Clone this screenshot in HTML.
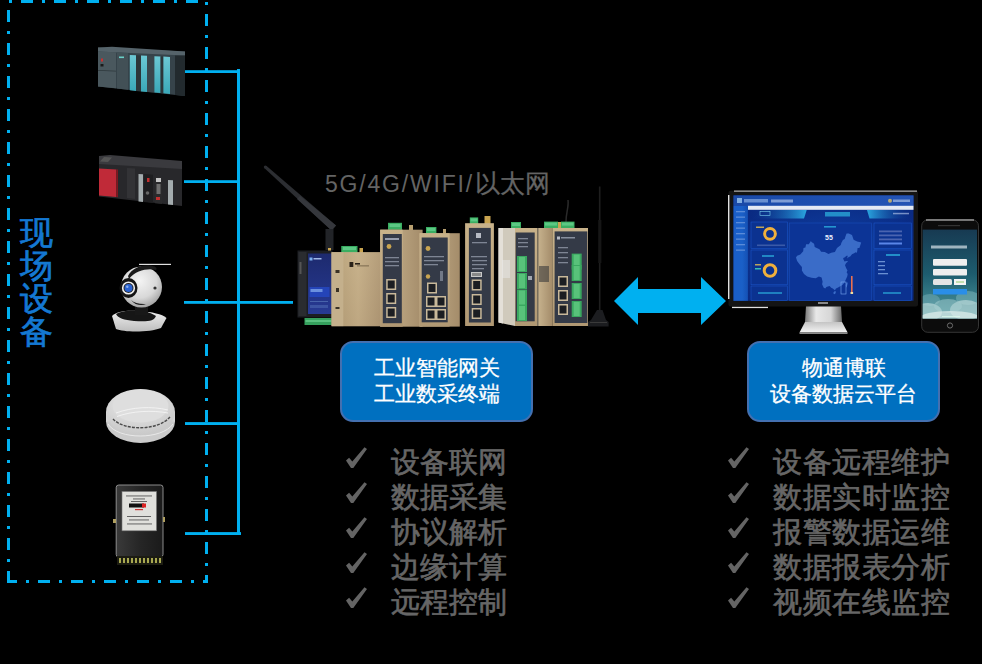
<!DOCTYPE html>
<html><head><meta charset="utf-8">
<style>
html,body{margin:0;padding:0;background:#000;}
body{width:982px;height:664px;position:relative;overflow:hidden;font-family:"Liberation Sans",sans-serif;}
svg{position:absolute;left:0;top:0;}
.t{position:absolute;white-space:nowrap;line-height:1;}
.box{position:absolute;background:#0070C0;border:2.6px solid #4470B0;border-radius:13px;box-sizing:border-box;color:#fff;text-align:center;font-size:21px;line-height:26px;-webkit-text-stroke:0.3px #fff;}
.list{font-size:29px;line-height:35px;color:#666;-webkit-text-stroke:0.65px #666;white-space:nowrap;}
</style></head><body>
<svg width="982" height="664" viewBox="0 0 982 664">

<defs>
<linearGradient id="beige" x1="0" x2="1" y1="0" y2="0"><stop offset="0" stop-color="#b8a482"/><stop offset="0.5" stop-color="#d2c0a0"/><stop offset="1" stop-color="#bca888"/></linearGradient>
<linearGradient id="beigeS" x1="0" x2="1" y1="0" y2="0"><stop offset="0" stop-color="#cdbc9c"/><stop offset="1" stop-color="#a89576"/></linearGradient>
<linearGradient id="scr1" x1="0" x2="0" y1="0" y2="1"><stop offset="0" stop-color="#1d2a6e"/><stop offset="1" stop-color="#273a94"/></linearGradient>
<g id="rj"><rect width="10" height="11" fill="#c8b89a"/><rect x="1.5" y="1.5" width="7" height="8" fill="#1c1e22"/></g>
<g id="gt"><rect width="10" height="16" fill="#3aa860"/><rect x="2" y="1" width="6" height="14" fill="#58c27a"/></g>
</defs>

<!-- PLC1 Siemens -->
<defs>
<linearGradient id="cy" x1="0" x2="0" y1="0" y2="1"><stop offset="0" stop-color="#6cc8d4"/><stop offset="1" stop-color="#3aa8b8"/></linearGradient>
</defs>
<polygon points="98,47.5 185,51.5 185,96 98,86.5" fill="#36434a"/>
<polygon points="98,47.5 112,46.8 185,51.5 185,55.5 98,51.5" fill="#55636a"/>
<polygon points="98,51.5 116,52.3 116,88.3 98,86.5" fill="#4a585e"/>
<polygon points="98,70 116,70.7 116,71.5 98,70.8" fill="#2e383c"/>
<polygon points="117,52.4 128,52.9 128,89.8 117,88.6" fill="#425056"/>
<rect x="119" y="56.5" width="5" height="1.6" fill="#6ad0c8"/>
<polygon points="129.8,55 136,55.3 136,91 129.8,90.3" fill="url(#cy)"/>
<polygon points="136,55.3 141,55.5 141,91.4 136,91" fill="#2c363a"/>
<polygon points="141,55.5 147,55.8 147,92 141,91.4" fill="url(#cy)"/>
<polygon points="147,55.8 154.4,56.2 154.4,92.5 147,92" fill="#3a464c"/>
<polygon points="154.4,56.2 160.6,56.5 160.6,93 154.4,92.5" fill="url(#cy)"/>
<polygon points="160.6,56.5 163.4,56.6 163.4,93.3 160.6,93" fill="#2c363a"/>
<polygon points="163.4,56.6 170,57 170,94 163.4,93.3" fill="url(#cy)"/>
<polygon points="175,55.5 185,55.5 185,96 175,95" fill="#222a2e"/>
<rect x="101" y="58.5" width="2" height="3" fill="#c83030"/>
<rect x="100.5" y="64" width="3" height="2.5" fill="#1a1a1a"/>
<!-- PLC2 Mitsubishi -->
<polygon points="99,156 182,162 182,206 99,196.5" fill="#28282b"/>
<polygon points="99,156 110,155 182,161 182,169 99,164" fill="#3a3a3e"/>
<polygon points="104,157 112,157.5 108,162 100,161.5" fill="#555"/>
<polygon points="99,168.5 116.3,169.5 116.3,197 99,195.5" fill="#c02a38"/>
<polygon points="116.3,169.5 118,169.6 118,197.2 116.3,197" fill="#801820"/>
<polygon points="127,168 135,168.6 135,199 127,198" fill="#333336"/>
<polygon points="138.5,174 143,174.3 143,202 138.5,201.5" fill="#a4acae"/>
<polygon points="144,174 153,174.8 153,203 144,202" fill="#1e1e20"/>
<rect x="147" y="178" width="2.5" height="4" fill="#c03030"/>
<circle cx="147.5" cy="193" r="1.8" fill="#666"/>
<polygon points="155,176 162,176.5 162,204 155,203.3" fill="#2a2a2c"/>
<rect x="156" y="178" width="5" height="4" fill="#c4c4c4"/>
<rect x="156.5" y="184" width="4" height="10" fill="#707070"/>
<rect x="156" y="197" width="4" height="3" fill="#c03030"/>
<polygon points="168,180 173,180.3 173,205 168,204.6" fill="#a4acae"/>
<!-- camera -->
<defs>
<radialGradient id="sph" cx="0.45" cy="0.35" r="0.7"><stop offset="0" stop-color="#f4f4f4"/><stop offset="0.6" stop-color="#d8d8d8"/><stop offset="1" stop-color="#9a9a9a"/></radialGradient>
<linearGradient id="basecam" x1="0" x2="0" y1="0" y2="1"><stop offset="0" stop-color="#f0f0f0"/><stop offset="1" stop-color="#bdbdbd"/></linearGradient>
<radialGradient id="smk" cx="0.45" cy="0.3" r="0.8"><stop offset="0" stop-color="#ececec"/><stop offset="1" stop-color="#c4c4c4"/></radialGradient>
<linearGradient id="mtr" x1="0" x2="1" y1="0" y2="0"><stop offset="0" stop-color="#3a3a3a"/><stop offset="0.5" stop-color="#262626"/><stop offset="1" stop-color="#1a1a1a"/></linearGradient>
</defs>
<rect x="139" y="263.8" width="32" height="1.2" fill="#e0e0e0"/>
<path d="M112,316 C116,311 128,310 140,311 C152,312 162,314 166.5,318 L161,328 C150,332.5 124,332.5 116,329 Z" fill="url(#basecam)"/>
<path d="M116,314 C124,309 146,309 156,316 C154,321 148,322 134,321 C124,320 118,318 116,314 Z" fill="#161616"/>
<rect x="135" y="303" width="13" height="12" fill="#181818"/>
<circle cx="141.5" cy="287" r="20.5" fill="url(#sph)"/>
<path d="M128,276 C132,268 142,264.5 150,265.5 C155,266 158,268 156,270 C148,268 136,270 129,279 Z" fill="#1a1a1a"/>
<path d="M131,300 C134,303 140,304.5 146,304 C142,306 135,305.5 131,300 Z" fill="#1a1a1a"/>
<ellipse cx="128.5" cy="288" rx="9" ry="10" fill="#141414"/>
<circle cx="128.5" cy="288" r="6.6" fill="#eeeeee"/>
<circle cx="128.5" cy="288" r="5" fill="#222"/>
<circle cx="128.5" cy="288" r="4" fill="#2a62d0"/>
<circle cx="127.3" cy="286.8" r="1.2" fill="#8ab0f0"/>
<circle cx="155" cy="288" r="1.6" fill="#333"/>
<!-- smoke detector -->
<ellipse cx="140.5" cy="421.5" rx="34.5" ry="21.4" fill="#cbcbcb"/>
<rect x="106" y="412" width="69" height="9.5" fill="#d4d4d4"/>
<ellipse cx="140.5" cy="412" rx="34.5" ry="23" fill="url(#smk)"/>
<ellipse cx="140.5" cy="406" rx="28" ry="16.5" fill="#dedede"/>
<path d="M113,419 C124,431 158,431 170,417" stroke="#4a4a4a" stroke-width="1.4" fill="none" stroke-dasharray="3 1.2"/>
<path d="M116,413 C132,407 152,406 168,410 M117,416.5 C132,411 152,410 168,413" stroke="#f6f6f6" stroke-width="0.8" fill="none"/>
<path d="M108,424 C118,440 162,440 173,424" stroke="#e8e8e8" stroke-width="1" fill="none"/>
<!-- meter -->
<rect x="116.2" y="485" width="46.8" height="72" rx="2.5" fill="url(#mtr)" stroke="#9a9a9a" stroke-width="0.9"/>
<rect x="122" y="491.5" width="34.5" height="39.3" fill="#e0e0dc" stroke="#777" stroke-width="0.6"/>
<g fill="#555"><rect x="126" y="495.5" width="26" height="0.9"/><rect x="133" y="498.5" width="12" height="0.9"/><rect x="131" y="501" width="16" height="0.9"/><rect x="127" y="516" width="24" height="0.9"/><rect x="129" y="519.5" width="20" height="0.9"/><rect x="127" y="523.5" width="25" height="0.9"/></g>
<rect x="129" y="503.5" width="15" height="4" fill="#111"/><rect x="142" y="503.5" width="4" height="4" fill="#d22"/>
<rect x="135" y="509" width="8" height="1.2" fill="#c33"/>
<rect x="113" y="519" width="3" height="4" fill="#b0a060"/><rect x="163" y="517" width="2" height="5" fill="#b0a060"/>
<rect x="117" y="556" width="46" height="9" fill="#1c1c12"/>
<g fill="#a8a850"><rect x="119" y="558" width="2" height="5"/><rect x="123" y="558" width="2" height="5"/><rect x="127" y="558" width="2" height="5"/><rect x="131" y="558" width="2" height="5"/><rect x="135" y="558" width="2" height="5"/><rect x="139" y="558" width="2" height="5"/><rect x="143" y="558" width="2" height="5"/><rect x="147" y="558" width="2" height="5"/><rect x="151" y="558" width="2" height="5"/><rect x="155" y="558" width="2" height="5"/><rect x="159" y="558" width="2" height="5"/></g>
<!-- antenna 1 -->
<defs>
<linearGradient id="bg1" x1="0" x2="0" y1="0" y2="1"><stop offset="0" stop-color="#c8b28a"/><stop offset="1" stop-color="#b09873"/></linearGradient>
<linearGradient id="bg2" x1="0" x2="1" y1="0" y2="0"><stop offset="0" stop-color="#b8a27c"/><stop offset="0.4" stop-color="#c8b28c"/><stop offset="1" stop-color="#a89070"/></linearGradient>
<linearGradient id="bgside" x1="0" x2="1" y1="0" y2="0"><stop offset="0" stop-color="#c9b590"/><stop offset="1" stop-color="#a48c6a"/></linearGradient>
<linearGradient id="scr1" x1="0" x2="0" y1="0" y2="1"><stop offset="0" stop-color="#1c2566"/><stop offset="0.5" stop-color="#232f80"/><stop offset="1" stop-color="#1e2a70"/></linearGradient>
<g id="rj"><rect width="10" height="11" fill="#d2c8b0"/><rect x="1.2" y="1.2" width="7.6" height="8.6" fill="#1a1c20"/><rect x="3" y="8" width="4" height="1.8" fill="#2e3038"/></g>
<g id="gt"><rect width="10" height="16" fill="#2f9c55"/><rect x="1.5" y="1" width="7" height="14" fill="#4dbb72"/><rect x="3" y="2" width="4" height="2" fill="#2a7a48"/><rect x="3" y="6" width="4" height="2" fill="#2a7a48"/><rect x="3" y="10" width="4" height="2" fill="#2a7a48"/></g>
<g id="gtt"><rect width="10" height="7" fill="#3aae62"/><rect x="1" y="1" width="8" height="3" fill="#5cc884"/></g>
</defs>
<polygon points="266.3,165.8 336,225.6 331.6,230.6 264.3,168" fill="#2c2e32"/>
<circle cx="265.3" cy="166.9" r="1.5" fill="#2c2e32"/>
<polygon points="300,196 336,225.6 331.6,230.6 297,199" fill="#35373c"/>
<rect x="325.5" y="229" width="8" height="21" fill="#222428"/>
<rect x="328" y="248" width="3" height="3" fill="#c9a450"/>
<!-- device 1 dark -->
<rect x="297.5" y="250.5" width="35" height="67" fill="#1c1e22"/>
<rect x="298.5" y="252" width="8" height="64" fill="#2a2c30"/>
<rect x="299.5" y="262" width="2" height="12" fill="#555"/>
<rect x="308" y="253.5" width="24" height="60.5" fill="url(#scr1)"/>
<rect x="309.5" y="257.5" width="3" height="3" fill="#7ab0f0"/><rect x="313.5" y="258" width="8" height="1.5" fill="#a0b8e8"/>
<rect x="309.5" y="287" width="20" height="10" fill="#2444b8"/>
<rect x="310.5" y="289" width="12" height="3" fill="#8ab0f0" opacity="0.7"/>
<rect x="310" y="301" width="18" height="1" fill="#6080c0" opacity="0.6"/>
<rect x="310" y="305" width="18" height="3" fill="#6080c0" opacity="0.4"/>
<rect x="304.5" y="318" width="28" height="7" fill="#35a05d"/>
<rect x="305.5" y="320" width="26" height="2" fill="#5ac080"/>
<!-- device 2 beige box -->
<use href="#gtt" x="341.5" y="246"/><rect x="341.5" y="246" width="16" height="7" fill="#3aae62"/><rect x="343" y="247" width="13" height="3" fill="#5cc884"/>
<rect x="359.5" y="248" width="3.5" height="5" fill="#c9a450"/>
<rect x="331.5" y="252.2" width="49" height="74" fill="url(#bg1)"/>
<rect x="331.5" y="252.2" width="12" height="74" fill="#c4b08c"/>
<rect x="343.5" y="252.2" width="37" height="74" fill="url(#bg2)" opacity="0.6"/>
<rect x="349.5" y="262" width="3.8" height="5" fill="#2a2218"/>
<rect x="355" y="263" width="5" height="1.6" fill="#2a2218"/><rect x="357" y="265.5" width="12" height="0.8" fill="#6a5a40"/>
<g fill="#3a3226"><rect x="335.5" y="270" width="4" height="3"/><rect x="336" y="288" width="3" height="4"/><rect x="335.5" y="307" width="4" height="2"/></g>
<!-- device 3 -->
<rect x="388" y="222.8" width="14" height="7" fill="#3aae62"/><rect x="389.5" y="224" width="11" height="3" fill="#5cc884"/>
<rect x="409" y="225" width="4" height="5" fill="#b8a070"/>
<rect x="380.2" y="229.7" width="42.4" height="97" fill="url(#bgside)"/>
<rect x="380.2" y="229.7" width="22.5" height="97" fill="url(#bg1)"/>
<rect x="382.8" y="234" width="19" height="89.2" fill="#343a47"/>
<rect x="385" y="238" width="14" height="2" fill="#c0c8d8" opacity="0.7"/>
<circle cx="389" cy="246.5" r="2.4" fill="#c9a450"/>
<g fill="#b0b8c8" opacity="0.6"><rect x="385" y="257" width="14" height="1.3"/><rect x="385" y="261" width="14" height="1.3"/><rect x="385" y="265" width="14" height="1.3"/></g>
<use href="#rj" x="386.2" y="279"/><use href="#rj" x="386.2" y="293"/><use href="#rj" x="386.2" y="307"/>
<!-- device 4 -->
<rect x="426" y="227" width="10.4" height="7" fill="#3aae62"/><rect x="427" y="228" width="8.4" height="3" fill="#5cc884"/>
<rect x="443" y="229" width="3" height="5" fill="#b8a070"/>
<rect x="419.6" y="233.2" width="40.2" height="93.4" fill="url(#bgside)"/>
<rect x="419.6" y="233.2" width="30" height="93.4" fill="url(#bg1)"/>
<rect x="421.7" y="237.5" width="26" height="84.8" fill="#343a47"/>
<circle cx="428" cy="248.5" r="2.4" fill="#c9a450"/><circle cx="428" cy="276.5" r="2.2" fill="#c9a450"/>
<g fill="#b0b8c8" opacity="0.6"><rect x="424" y="256" width="20" height="1.3"/><rect x="424" y="260" width="20" height="1.3"/><rect x="424" y="264" width="14" height="1.3"/></g>
<rect x="440" y="271" width="3" height="10" fill="#b0b8c8" opacity="0.5"/>
<use href="#rj" x="427" y="282.5"/>
<use href="#rj" x="426" y="296"/><use href="#rj" x="436" y="296"/><use href="#rj" x="426" y="309"/><use href="#rj" x="436" y="309"/>
<!-- device 5 -->
<rect x="469.8" y="217.4" width="8.4" height="7" fill="#3aae62"/><rect x="470.6" y="218.4" width="6.8" height="3" fill="#5cc884"/>
<rect x="484.5" y="216" width="6" height="8" fill="#c9a450"/>
<rect x="465.1" y="223.2" width="28.8" height="102.8" fill="url(#bg1)"/>
<rect x="468.9" y="227.9" width="21.9" height="94.6" fill="#343a47"/>
<rect x="476" y="233" width="5" height="5" fill="#d8dce4" opacity="0.8"/>
<g fill="#b0b8c8" opacity="0.6"><rect x="472" y="242" width="15" height="1.3"/><rect x="471" y="256" width="16" height="1.3"/><rect x="472" y="260" width="15" height="1.3"/><rect x="472" y="264" width="15" height="1.3"/><rect x="472" y="268" width="12" height="1.3"/></g>
<rect x="471" y="272" width="11" height="5" fill="#c8c8c8"/><rect x="472" y="273" width="9" height="3" fill="#888"/>
<use href="#rj" x="471.7" y="279.5"/><use href="#rj" x="471.7" y="294"/><use href="#rj" x="471.7" y="308"/>
<!-- device 6 -->
<rect x="511" y="222" width="10" height="6.5" fill="#3aae62"/><rect x="512" y="223" width="8" height="3" fill="#5cc884"/>
<polygon points="498.5,228 515,228 515,326 498.5,322.5" fill="#d0cabc"/>
<polygon points="498.5,228 503,228 503,323.5 498.5,322.5" fill="#e4e0d8"/>
<rect x="502" y="260" width="8" height="18" fill="#e8e8e8" opacity="0.5"/>
<rect x="515" y="228" width="22" height="98" fill="url(#bg1)"/>
<rect x="515.6" y="232.5" width="19.1" height="88.8" fill="#343a47"/>
<g fill="#b0b8c8" opacity="0.6"><rect x="518" y="238" width="10" height="1.3"/><rect x="518" y="242" width="10" height="1.3"/><rect x="518" y="246" width="10" height="1.3"/></g>
<use href="#gt" x="517" y="256"/><use href="#gt" x="517" y="273"/><use href="#gt" x="517" y="289.5"/><use href="#gt" x="517" y="305"/>
<rect x="528" y="276" width="4" height="4" fill="#d0d4dc" opacity="0.7"/>
<!-- device 7 -->
<path d="M566,222 C566,212 569,207 568,200" stroke="#2a2a2a" stroke-width="1.5" fill="none"/>
<rect x="544" y="221.6" width="14" height="6.5" fill="#3aae62"/><rect x="561" y="221.6" width="13.5" height="6.5" fill="#3aae62"/>
<rect x="545" y="222.6" width="12" height="3" fill="#5cc884"/><rect x="562" y="222.6" width="11.5" height="3" fill="#5cc884"/>
<rect x="558" y="222" width="3" height="6" fill="#c9a450"/>
<rect x="537" y="228" width="15.3" height="98" fill="url(#bgside)"/>
<rect x="537" y="228" width="1.5" height="98" fill="#2a2a2a" opacity="0.5"/>
<rect x="539" y="266" width="10" height="16" fill="#3a3a3a" opacity="0.6"/>
<rect x="552.3" y="228" width="35.7" height="98" fill="url(#bg1)"/>
<rect x="554.6" y="231.4" width="32.7" height="91.6" fill="#343a47"/>
<rect x="557" y="236.5" width="3" height="3" fill="#d8dce4" opacity="0.8"/><rect x="561" y="237" width="14" height="1.5" fill="#c0c8d8" opacity="0.6"/>
<g fill="#b0b8c8" opacity="0.6"><rect x="558" y="247" width="10" height="1.3"/><rect x="558" y="252" width="10" height="1.3"/><rect x="558" y="257" width="10" height="1.3"/><rect x="558" y="262" width="10" height="1.3"/></g>
<use href="#rj" x="558" y="276"/><use href="#rj" x="558" y="290"/><use href="#rj" x="558" y="304"/>
<use href="#gt" x="571.7" y="253.6"/><use href="#gt" x="571.7" y="265"/><use href="#gt" x="571.7" y="283"/><use href="#gt" x="571.7" y="301"/>
<!-- magnetic antenna -->
<line x1="599.7" y1="186.5" x2="599.7" y2="314" stroke="#1e1e1e" stroke-width="1.6"/>
<rect x="598.2" y="220" width="3.2" height="43" fill="#161616"/>
<polygon points="597,310 602.5,310 606,320 608.6,322 608.6,326.5 588,326.5 588,322 591,320" fill="#1c1d20"/>
<rect x="590" y="322" width="17" height="1" fill="#3a3a3a"/>
<!-- monitor -->
<defs>
<linearGradient id="silver" x1="0" x2="1" y1="0" y2="0"><stop offset="0" stop-color="#7a7a7a"/><stop offset="0.3" stop-color="#e8e8e8"/><stop offset="0.7" stop-color="#d6d6d6"/><stop offset="1" stop-color="#6a6a6a"/></linearGradient>
<linearGradient id="silverB" x1="0" x2="0" y1="0" y2="1"><stop offset="0" stop-color="#c4c4c4"/><stop offset="1" stop-color="#f4f4f4"/></linearGradient>
<linearGradient id="side" x1="0" x2="1" y1="0" y2="0"><stop offset="0" stop-color="#1a5ec8"/><stop offset="0.6" stop-color="#1a60c8"/><stop offset="1" stop-color="#1450b4"/></linearGradient>
<linearGradient id="hdr" x1="0" x2="1" y1="0" y2="0"><stop offset="0" stop-color="#1a4aa8"/><stop offset="0.5" stop-color="#1d4fb0"/><stop offset="1" stop-color="#2454b4"/></linearGradient>
<linearGradient id="ban" x1="0" x2="1" y1="0" y2="0"><stop offset="0" stop-color="#0a2f8a" stop-opacity="0"/><stop offset="1" stop-color="#2aa6e0"/></linearGradient>
<linearGradient id="ban2" x1="0" x2="1" y1="0" y2="0"><stop offset="0" stop-color="#2aa6e0"/><stop offset="1" stop-color="#0a2f8a" stop-opacity="0"/></linearGradient>
<radialGradient id="scrbg" cx="0.55" cy="0.6" r="0.6"><stop offset="0" stop-color="#1146ac"/><stop offset="1" stop-color="#0a2a82"/></radialGradient>
<linearGradient id="phs" x1="0" x2="0" y1="0" y2="1"><stop offset="0" stop-color="#173a52"/><stop offset="0.5" stop-color="#1d5c6e"/><stop offset="1" stop-color="#4f9aa0"/></linearGradient>
<clipPath id="phclip"><rect x="922.7" y="229.6" width="54.3" height="89"/></clipPath>
</defs>
<polygon points="806,306 841,306 842,322 805,322" fill="url(#silver)"/>
<polygon points="805,322 842,322 847.6,332.5 799.5,332.5" fill="url(#silverB)"/>
<rect x="799.5" y="332.5" width="48" height="1.5" fill="#8a8a8a"/>
<rect x="728.5" y="190.8" width="189.5" height="115.6" rx="2" fill="#141414"/>
<rect x="734" y="190.6" width="183" height="1" fill="#d8d8d8"/>
<rect x="728" y="195" width="1.4" height="104" fill="#e0e0e0"/>
<rect x="732" y="306.8" width="36" height="1.3" fill="#e0e0e0"/>
<rect x="818" y="302" width="10" height="2" fill="#888"/>
<rect x="733.5" y="195.4" width="180" height="105.4" fill="url(#scrbg)"/>
<rect x="733.5" y="195.4" width="180" height="10.6" fill="url(#hdr)"/>
<rect x="737" y="198" width="5" height="5" fill="#9cc8f0" opacity="0.8"/>
<rect x="744" y="199" width="24" height="3.5" fill="#a8c8f0" opacity="0.55"/>
<rect x="771" y="199.5" width="22" height="3" fill="#cfe0f8" opacity="0.55"/>
<circle cx="890" cy="200.8" r="2" fill="#e0c060" opacity="0.8"/>
<rect x="893" y="199.5" width="17" height="2.5" fill="#c8d8f0" opacity="0.55"/>
<rect x="747.9" y="205.8" width="165.6" height="4" fill="#e4eaf4"/>
<rect x="733.5" y="206" width="14.4" height="94.8" fill="url(#side)"/>
<g fill="#8fb0e8" opacity="0.55"><rect x="736" y="211" width="9" height="1.3"/><rect x="736" y="216.5" width="9" height="1.3"/><rect x="736" y="222" width="9" height="1.3"/><rect x="736" y="227.5" width="9" height="1.3"/><rect x="736" y="233" width="9" height="1.3"/><rect x="736" y="238.5" width="9" height="1.3"/><rect x="736" y="244" width="9" height="1.3"/><rect x="736" y="249.5" width="9" height="1.3"/></g>
<polygon points="749,210 806.7,210 804,218.5 749,218.5" fill="url(#ban)"/>
<polygon points="867,210 912.6,210 912.6,218.5 869.5,218.5" fill="url(#ban2)"/>
<rect x="825" y="212" width="25" height="4.5" fill="#30c0e8" opacity="0.65"/>
<rect x="893" y="212.8" width="16" height="1.5" fill="#c0d0f0" opacity="0.6"/>
<rect x="760" y="211.5" width="10" height="4" fill="none" stroke="#7ad0f0" stroke-width="0.6"/>
<g fill="#0b3290" stroke="#1d5ad0" stroke-width="0.5">
<rect x="751" y="222" width="36.4" height="26.6"/>
<rect x="751" y="250" width="36.4" height="34.8"/>
<rect x="751" y="286" width="36.4" height="14.5"/>
<rect x="874" y="223" width="37.5" height="25.6"/>
<rect x="874" y="250" width="37.5" height="34.8"/>
<rect x="874" y="286" width="37.5" height="14.5"/>
</g>
<rect x="789.5" y="223" width="82" height="77.5" fill="#0c3496" stroke="#1a50c0" stroke-width="0.5"/>
<circle cx="770" cy="233.8" r="5.4" fill="none" stroke="#f0b03c" stroke-width="3"/>
<circle cx="770" cy="270.5" r="5.8" fill="none" stroke="#f0b03c" stroke-width="3"/>
<rect x="756" y="226.5" width="8" height="1.5" fill="#e8c050" opacity="0.8"/>
<rect x="755" y="264" width="6" height="1.5" fill="#e8c050" opacity="0.8"/><rect x="755" y="268" width="6" height="1.5" fill="#40e0c0" opacity="0.8"/>
<rect x="757" y="244.5" width="28" height="1.6" fill="#3a5aa8"/>
<rect x="762" y="255" width="12" height="2" fill="#30c0e8" opacity="0.6"/>
<g fill="#4a64b0"><rect x="879" y="230.5" width="23" height="1.8"/><rect x="879" y="234.5" width="23" height="1.8"/><rect x="879" y="238.5" width="23" height="1.8"/></g>
<rect x="879" y="242.5" width="23" height="2" fill="#5a86e8"/>
<g fill="#8ab0e8" opacity="0.75"><rect x="878" y="261" width="7" height="1.3"/><rect x="878" y="265" width="7" height="1.3"/><rect x="878" y="269" width="7" height="1.3"/><rect x="878" y="273" width="10" height="1.3"/></g>
<rect x="886" y="254" width="14" height="2" fill="#30c0e8" opacity="0.65"/>
<rect x="883" y="292" width="18" height="2" fill="#30c0e8" opacity="0.55"/>
<rect x="758" y="292" width="24" height="2" fill="#30c0e8" opacity="0.55"/>
<rect x="824" y="226" width="12" height="1.6" fill="#30c0e8" opacity="0.7"/>
<text x="825" y="239.5" font-size="7" fill="#e8eeff" font-family="Liberation Sans, sans-serif" font-weight="bold">55</text>
<path d="M796.0,257.5 L797.1,260.9 L799.7,264.4 L801.9,267.0 L801.9,270.5 L804.0,273.9 L807.2,276.5 L811.5,277.7 L815.7,278.2 L818.9,276.5 L821.6,277.4 L822.6,281.7 L822.1,284.3 L823.7,287.7 L825.3,288.6 L826.4,286.9 L829.6,286.0 L831.2,287.7 L832.8,288.4 L834.9,290.3 L836.0,288.6 L838.1,287.4 L840.2,286.3 L842.4,285.1 L844.5,282.5 L845.6,280.0 L847.2,276.5 L847.7,273.9 L846.6,272.2 L847.5,270.5 L846.1,267.9 L845.0,265.3 L846.1,263.0 L848.2,261.5 L846.6,260.9 L844.5,261.5 L843.4,259.2 L843.2,258.0 L844.5,257.5 L846.6,255.8 L847.7,255.8 L847.2,258.4 L848.8,257.0 L850.2,256.6 L852.0,254.2 L854.1,253.2 L855.7,252.3 L856.9,252.7 L857.3,250.6 L857.6,248.0 L859.4,248.0 L861.2,242.5 L859.4,242.1 L857.1,241.4 L853.6,239.7 L852.0,235.0 L848.8,233.5 L846.6,233.6 L845.6,235.9 L844.7,239.0 L842.9,240.0 L841.3,243.1 L840.8,244.9 L837.0,248.0 L834.9,252.0 L831.2,252.8 L828.5,253.9 L824.8,252.1 L821.1,251.8 L819.5,249.2 L816.8,248.0 L814.7,247.1 L814.1,243.7 L811.5,241.9 L810.9,241.1 L808.8,244.2 L806.1,244.2 L805.4,247.5 L803.5,248.0 L803.2,251.3 L800.3,254.6 L797.1,255.8 Z M833.4,292.6 L834.9,291.0 L836.0,291.7 L835.4,293.6 L834.4,294.3 L833.4,293.6 Z M847.2,282.0 L847.7,283.4 L846.6,287.7 L845.8,286.0 L846.1,283.4 Z" fill="#3a6cc8"/>
<rect x="851" y="276" width="1.6" height="18" fill="#e87050"/>
<rect x="850.5" y="292" width="2.6" height="2" fill="#f0e0a0"/>
<rect x="841" y="282" width="5" height="12" fill="none" stroke="#7aa8f0" stroke-width="0.6"/>
<!-- phone -->
<rect x="921.7" y="219.8" width="56.8" height="112.5" rx="6" fill="#0c0c0c" stroke="#4a4a4a" stroke-width="0.7"/>
<rect x="926" y="219.5" width="48" height="1" fill="#cfcfcf"/>
<rect x="922.7" y="229.6" width="54.3" height="89" fill="url(#phs)"/>
<g clip-path="url(#phclip)">
<ellipse cx="930" cy="300" rx="10" ry="6" fill="#7fb4bc" opacity="0.45"/>
<ellipse cx="968" cy="298" rx="12" ry="7" fill="#8cc0c6" opacity="0.45"/>
<ellipse cx="928" cy="312" rx="14" ry="9" fill="#b8d8d8" opacity="0.7"/>
<ellipse cx="966" cy="310" rx="16" ry="10" fill="#c0dcdc" opacity="0.65"/>
<ellipse cx="948" cy="306" rx="14" ry="7" fill="#a8d0d2" opacity="0.5"/>
<ellipse cx="950" cy="318" rx="30" ry="7" fill="#dcecea" opacity="0.75"/>
</g>
<rect x="931" y="245.5" width="36" height="3" fill="#e8f0f4" opacity="0.65"/>
<rect x="933" y="259" width="34" height="6.8" rx="1" fill="#eeeeee"/>
<rect x="933" y="269" width="34" height="6.6" rx="1" fill="#eeeeee"/>
<rect x="933" y="279" width="19" height="6" rx="1.5" fill="#e4e4e4"/>
<rect x="954" y="279" width="12" height="6" fill="#f4f4f4"/>
<rect x="956" y="281" width="8" height="2" fill="#a0d080" opacity="0.6"/>
<rect x="933" y="289" width="34" height="5.5" fill="#2a8ee8"/>
<rect x="942" y="316" width="18" height="1" fill="#dfe" opacity="0.7"/>
<rect x="938" y="225" width="22" height="1.2" fill="#333"/>
<circle cx="950" cy="325.5" r="2.6" fill="none" stroke="#777" stroke-width="0.9"/>
<g fill="#00B0F0">
<rect x="7" y="10" width="3" height="12"/>
<rect x="7" y="43" width="3" height="12"/>
<rect x="7" y="76" width="3" height="12"/>
<rect x="7" y="109" width="3" height="12"/>
<rect x="7" y="142" width="3" height="12"/>
<rect x="7" y="175" width="3" height="12"/>
<rect x="7" y="208" width="3" height="12"/>
<rect x="7" y="241" width="3" height="12"/>
<rect x="7" y="274" width="3" height="12"/>
<rect x="7" y="307" width="3" height="12"/>
<rect x="7" y="340" width="3" height="12"/>
<rect x="7" y="373" width="3" height="12"/>
<rect x="7" y="406" width="3" height="12"/>
<rect x="7" y="439" width="3" height="12"/>
<rect x="7" y="472" width="3" height="12"/>
<rect x="7" y="505" width="3" height="12"/>
<rect x="7" y="538" width="3" height="12"/>
<rect x="7" y="571" width="3" height="12"/>
<rect x="7" y="31" width="3" height="3"/>
<rect x="7" y="64" width="3" height="3"/>
<rect x="7" y="97" width="3" height="3"/>
<rect x="7" y="130" width="3" height="3"/>
<rect x="7" y="163" width="3" height="3"/>
<rect x="7" y="196" width="3" height="3"/>
<rect x="7" y="229" width="3" height="3"/>
<rect x="7" y="262" width="3" height="3"/>
<rect x="7" y="295" width="3" height="3"/>
<rect x="7" y="328" width="3" height="3"/>
<rect x="7" y="361" width="3" height="3"/>
<rect x="7" y="394" width="3" height="3"/>
<rect x="7" y="427" width="3" height="3"/>
<rect x="7" y="460" width="3" height="3"/>
<rect x="7" y="493" width="3" height="3"/>
<rect x="7" y="526" width="3" height="3"/>
<rect x="7" y="559" width="3" height="3"/>
<rect x="9" y="0" width="3" height="3"/>
<rect x="21" y="0" width="12" height="3"/>
<rect x="42" y="0" width="3" height="3"/>
<rect x="54" y="0" width="12" height="3"/>
<rect x="75" y="0" width="3" height="3"/>
<rect x="87" y="0" width="12" height="3"/>
<rect x="108" y="0" width="3" height="3"/>
<rect x="120" y="0" width="12" height="3"/>
<rect x="141" y="0" width="3" height="3"/>
<rect x="153" y="0" width="12" height="3"/>
<rect x="174" y="0" width="3" height="3"/>
<rect x="186" y="0" width="12" height="3"/>
<rect x="205" y="2" width="3" height="3"/>
<rect x="205" y="14" width="3" height="12"/>
<rect x="205" y="35" width="3" height="3"/>
<rect x="205" y="47" width="3" height="12"/>
<rect x="205" y="68" width="3" height="3"/>
<rect x="205" y="80" width="3" height="12"/>
<rect x="205" y="101" width="3" height="3"/>
<rect x="205" y="113" width="3" height="12"/>
<rect x="205" y="134" width="3" height="3"/>
<rect x="205" y="146" width="3" height="12"/>
<rect x="205" y="167" width="3" height="3"/>
<rect x="205" y="179" width="3" height="12"/>
<rect x="205" y="200" width="3" height="3"/>
<rect x="205" y="212" width="3" height="12"/>
<rect x="205" y="233" width="3" height="3"/>
<rect x="205" y="245" width="3" height="12"/>
<rect x="205" y="266" width="3" height="3"/>
<rect x="205" y="278" width="3" height="12"/>
<rect x="205" y="299" width="3" height="3"/>
<rect x="205" y="311" width="3" height="12"/>
<rect x="205" y="332" width="3" height="3"/>
<rect x="205" y="344" width="3" height="12"/>
<rect x="205" y="365" width="3" height="3"/>
<rect x="205" y="377" width="3" height="12"/>
<rect x="205" y="398" width="3" height="3"/>
<rect x="205" y="410" width="3" height="12"/>
<rect x="205" y="431" width="3" height="3"/>
<rect x="205" y="443" width="3" height="12"/>
<rect x="205" y="464" width="3" height="3"/>
<rect x="205" y="476" width="3" height="12"/>
<rect x="205" y="497" width="3" height="3"/>
<rect x="205" y="509" width="3" height="12"/>
<rect x="205" y="530" width="3" height="3"/>
<rect x="205" y="542" width="3" height="12"/>
<rect x="205" y="563" width="3" height="3"/>
<rect x="205" y="575" width="3" height="8"/>
<rect x="7" y="580" width="10" height="3"/>
<rect x="38" y="580" width="12" height="3"/>
<rect x="71" y="580" width="12" height="3"/>
<rect x="104" y="580" width="12" height="3"/>
<rect x="137" y="580" width="12" height="3"/>
<rect x="170" y="580" width="12" height="3"/>
<rect x="203" y="580" width="5" height="3"/>
<rect x="26" y="580" width="3" height="3"/>
<rect x="59" y="580" width="3" height="3"/>
<rect x="92" y="580" width="3" height="3"/>
<rect x="125" y="580" width="3" height="3"/>
<rect x="158" y="580" width="3" height="3"/>
<rect x="191" y="580" width="3" height="3"/>
<rect x="237" y="69" width="3" height="466"/>
<rect x="185" y="70.2" width="55" height="2.8"/>
<rect x="184" y="180.2" width="56" height="2.8"/>
<rect x="184" y="301" width="109" height="2.8"/>
<rect x="185" y="422.1" width="55" height="2.9"/>
<rect x="185" y="532.1" width="56" height="2.9"/>
<polygon points="614,301 638,277 638,289 701,289 701,277 726,301 701,325 701,313 638,313 638,325"/>
</g>
</svg>
<svg width="982" height="664" viewBox="0 0 982 664">
<defs><polygon id="chk" points="346,460.4 349.1,457.7 352.3,461.4 364.5,447.3 367,448.9 353.3,467.9 351,467.9"/></defs>
<g fill="#646464"><use href="#chk" x="0" y="0"/><use href="#chk" x="0" y="35"/><use href="#chk" x="0" y="70"/><use href="#chk" x="0" y="105"/><use href="#chk" x="0" y="140"/><use href="#chk" x="382" y="0"/><use href="#chk" x="382" y="35"/><use href="#chk" x="382" y="70"/><use href="#chk" x="382" y="105"/><use href="#chk" x="382" y="140"/></g></svg>
<div class="t" style="left:20px;top:216px;width:34px;font-size:33px;line-height:33px;color:#1478D2;white-space:normal;-webkit-text-stroke:0.75px #1478D2;">现场设备</div>
<div class="t" style="left:325px;top:173px;font-size:23px;color:#646464;letter-spacing:1.8px;">5G/4G/WIFI/</div>
<div class="t" style="left:475px;top:171px;font-size:25px;color:#646464;-webkit-text-stroke:0.3px #646464;">以太网</div>
<div class="box" style="left:340px;top:341px;width:193px;height:81px;padding-top:12px;">工业智能网关<br>工业数采终端</div>
<div class="box" style="left:747px;top:341px;width:193px;height:81px;padding-top:12px;">物通博联<br>设备数据云平台</div>
<div class="t list" style="left:391px;top:445px;">设备联网<br>数据采集<br>协议解析<br>边缘计算<br>远程控制</div>
<div class="t list" style="left:773px;top:445px;letter-spacing:0.6px;">设备远程维护<br>数据实时监控<br>报警数据运维<br>数据报表分析<br>视频在线监控</div>
</body></html>
